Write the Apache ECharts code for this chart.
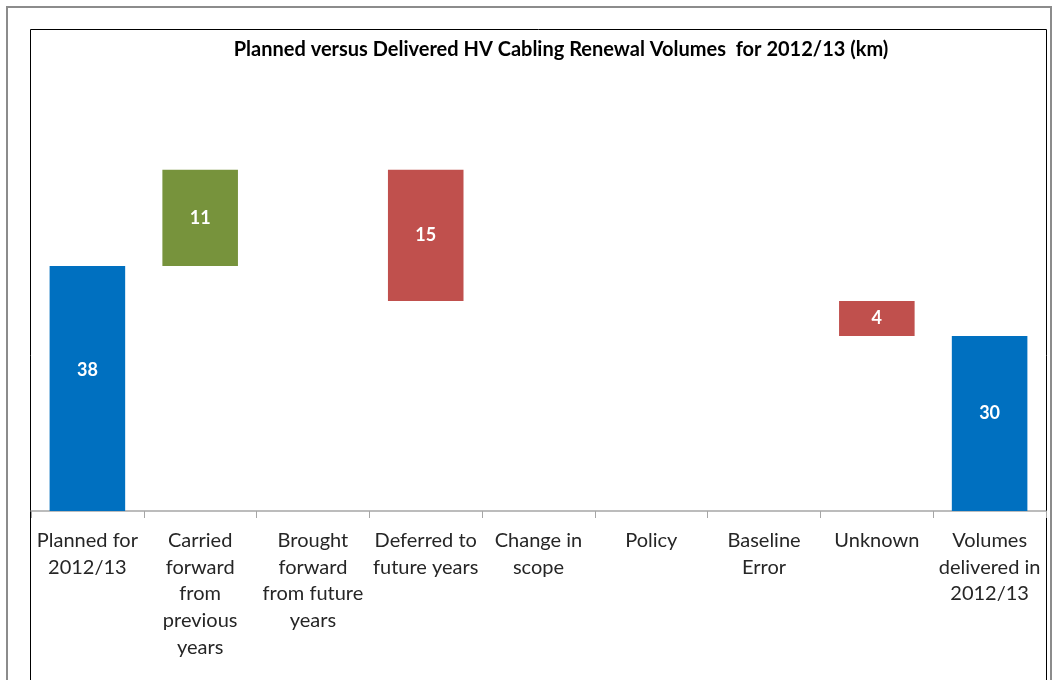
<!DOCTYPE html>
<html>
<head>
<meta charset="utf-8">
<script src="https://cdn.jsdelivr.net/npm/echarts@6/dist/echarts.min.js"></script>
<style>
  html, body { margin: 0; padding: 0; background: #fff; }
  #chart { width: 1060px; height: 680px; }
</style>
</head>
<body>
<div id="chart"></div>
<script>
// Waterfall steps: planned volume, adjustments, delivered volume (km)
const categories = [
  'Planned for\n2012/13',
  'Carried\nforward\nfrom\nprevious\nyears',
  'Brought\nforward\nfrom future\nyears',
  'Deferred to\nfuture years',
  'Change in\nscope',
  'Policy',
  'Baseline\nError',
  'Unknown',
  'Volumes\ndelivered in\n2012/13'
];
const stepValues = [38, 11, 0, 15, 0, 0, 0, 4, 30];
// 'total' bars stand on the axis, 'up' adds to the running total, 'down' subtracts
const stepKinds = ['total', 'up', 'up', 'down', 'down', 'down', 'down', 'down', 'total'];

const colors = { total: '#0070C0', up: '#77933C', down: '#C0504D' };

// Vertical nudge of the value label for the two total bars (first, last)
function labelShift(i, kind) {
  if (kind !== 'total') return 0;
  return i === 0 ? -18 : -10;
}

// Build the invisible base and the visible floating part of each bar
const baseValues = [];
const barItems = [];
let running = 0;
stepValues.forEach((v, i) => {
  const kind = stepKinds[i];
  if (kind === 'total') {
    running = v;
    baseValues.push(0);
  } else if (kind === 'up') {
    baseValues.push(running);
    running += v;
  } else {
    running -= v;
    baseValues.push(running);
  }
  barItems.push({
    value: v,
    itemStyle: { color: colors[kind] },
    label: { offset: [0, labelShift(i, kind)] }
  });
});

const chart = echarts.init(document.getElementById('chart'));
chart.setOption({
  animation: false,
  textStyle: { fontFamily: 'Lato, "DejaVu Sans", sans-serif' },
  title: {
    text: 'Planned versus Delivered HV Cabling Renewal Volumes  for 2012/13 (km)',
    left: 556,
    textAlign: 'center',
    top: 35,
    textStyle: { fontSize: 20, fontWeight: 'bold', color: '#000', fontFamily: 'Lato, sans-serif' }
  },
  graphic: [
    { type: 'rect', shape: { x: 7, y: 7, width: 1044, height: 700 }, style: { fill: 'none', stroke: '#8c8c8c', lineWidth: 2 }, z: -1 },
    { type: 'rect', shape: { x: 30.5, y: 29.5, width: 1016, height: 700 }, style: { fill: 'none', stroke: '#000', lineWidth: 1 }, z: -1 }
  ],
  grid: { left: 31, right: 14, top: 73.5, bottom: 169 },
  xAxis: {
    type: 'category',
    data: categories,
    axisLine: { lineStyle: { color: '#a6a6a6', width: 1.5 } },
    axisTick: { show: true, length: 7, lineStyle: { color: '#a6a6a6' } },
    axisLabel: {
      interval: 0,
      color: '#262626',
      fontSize: 20,
      lineHeight: 26.8,
      margin: 16,
      fontFamily: 'Lato, sans-serif'
    }
  },
  yAxis: {
    type: 'value',
    min: 10,
    max: 60,
    show: false,
    splitLine: { show: false }
  },
  series: [
    {
      type: 'bar',
      stack: 'wf',
      data: baseValues,
      itemStyle: { color: 'transparent' },
      emphasis: { disabled: true },
      silent: true,
      barWidth: '67%'
    },
    {
      type: 'bar',
      stack: 'wf',
      data: barItems,
      barWidth: '67%',
      label: {
        show: true,
        position: 'inside',
        color: '#fff',
        fontWeight: 'bold',
        fontSize: 18,
        fontFamily: 'Lato, sans-serif',
        formatter: p => (p.value ? String(p.value) : '')
      }
    }
  ]
});
</script>
</body>
</html>
